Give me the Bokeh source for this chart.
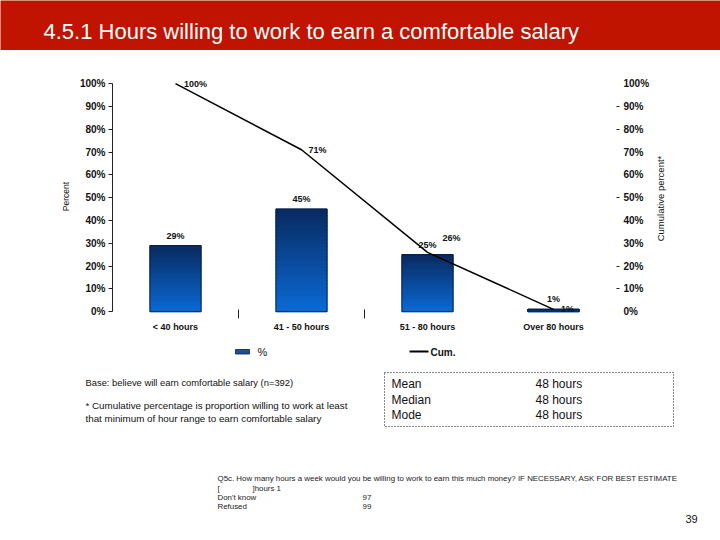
import math
import numpy as np
from bokeh.plotting import figure
from bokeh.models import (Range1d, LinearAxis, FixedTicker, PrintfTickFormatter,
                          ColumnDataSource, LabelSet)
from bokeh.layouts import row
from bokeh.core.properties import value
from bokeh.embed import file_html
from bokeh.resources import INLINE

# ---------------- data ----------------
title = "4.5.1 Hours willing to work to earn a comfortable salary"
categories = ["< 40 hours", "41 - 50 hours", "51 - 80 hours", "Over 80 hours"]
pct = [29, 45, 25, 1]
cum = [100, 71, 26, 1]
y_ticks = [0, 10, 20, 30, 40, 50, 60, 70, 80, 90, 100]
right_tick_marks = [10, 20, 50, 80, 90]
right_title = "Cumulative percent*"
legend_labels = ["%", "Cum."]
summary_labels = ["Mean", "Median", "Mode"]
summary_values = ["48 hours", "48 hours", "48 hours"]
base_note = "Base: believe will earn comfortable salary (n=392)"
cum_note = ["* Cumulative percentage is proportion willing to work at least",
            "that minimum of hour range to earn comfortable salary"]
question = "Q5c. How many hours a week would you be willing to work to earn this much money?  IF NECESSARY, ASK FOR BEST ESTIMATE"
answer_rows = ["Don't know", "Refused"]
answer_codes = ["97", "99"]
page_number = "39"

FONT = value("Liberation Sans")
RED = "#C01400"
W = 720

# ---------------- banner ----------------
banner = figure(width=W, height=50, x_range=Range1d(0, W), y_range=Range1d(50, 0),
                output_backend="svg", toolbar_location=None, x_axis_type=None, y_axis_type=None,
                min_border=0)
banner.background_fill_color = RED
banner.border_fill_color = RED
banner.outline_line_color = None
banner.text(x=[43], y=[31], text=[title], text_font=FONT, text_font_size="22px",
            text_color="white", text_baseline="middle", text_align="left")

# ---------------- chart ----------------
n = len(categories)
xc = np.arange(n) + 0.5
pct_a = np.array(pct, dtype=float)
CW = 652

chart = figure(width=CW, height=290, x_range=Range1d(0, n), y_range=Range1d(-3, 104),
               output_backend="svg", toolbar_location=None, x_axis_type=None, y_axis_type=None,
               min_border_left=112, min_border_right=CW - 617, min_border_top=24,
               min_border_bottom=22)
chart.outline_line_color = None

# gradient bars built from slices of each bar's own height
N = 30
top_c = np.array([9, 42, 96])
bot_c = np.array([10, 106, 214])
xs, bots, tops, cols = [], [], [], []
for k in range(N):
    f = (k + 0.5) / N
    c = bot_c + (top_c - bot_c) * f
    col = "#%02x%02x%02x" % tuple(int(round(v)) for v in c)
    for i in range(n):
        xs.append(xc[i])
        bots.append(pct_a[i] * k / N)
        tops.append(pct_a[i] * (k + 1) / N)
        cols.append(col)
slices = ColumnDataSource(dict(x=xs, bottom=bots, top=tops, color=cols))
BW = 0.405
chart.vbar(x="x", bottom="bottom", top="top", width=BW, fill_color="color",
           line_color="color", line_width=1.2, source=slices)
chart.vbar(x=xc, top=pct_a, width=BW, fill_color=None, line_color="#0b1d3f", line_width=0.8)

chart.line(x=xc, y=cum, line_color="black", line_width=1.5)

bar_src = ColumnDataSource(dict(x=xc, y=pct, t=["%d%%" % v for v in pct]))
chart.add_layout(LabelSet(x="x", y="y", text="t", source=bar_src, y_offset=5,
                          text_align="center", text_baseline="bottom",
                          text_font=FONT, text_font_size="9px", text_font_style="bold",
                          text_color="#111111"))
cum_src = ColumnDataSource(dict(x=xc, y=cum, t=["%d%%" % v for v in cum],
                                xo=[20, 16, 24, 14], yo=[0, 0, 14, 0]))
chart.add_layout(LabelSet(x="x", y="y", text="t", source=cum_src, x_offset="xo", y_offset="yo",
                          text_align="center", text_baseline="middle",
                          text_font=FONT, text_font_size="9px", text_font_style="bold",
                          text_color="#111111"))

def style_y(ax, size):
    ax.bounds = (0, 100)
    ax.major_label_text_font = "Liberation Sans"
    ax.major_label_text_font_size = "10px"
    ax.major_label_text_font_style = "bold"
    ax.major_label_text_color = "#111111"
    ax.axis_label_text_font = "Liberation Sans"
    ax.axis_label_text_font_size = size
    ax.axis_label_text_font_style = "normal"
    ax.axis_label_text_color = "#111111"

yl = LinearAxis(ticker=FixedTicker(ticks=y_ticks), formatter=PrintfTickFormatter(format="%d%%"),
                axis_label="Percent")
style_y(yl, "8.5px")
yl.major_tick_out = 4
yl.major_tick_in = 0
yl.major_label_standoff = 3
yl.axis_label_standoff = 6
yl.axis_line_color = "#222222"
yl.major_tick_line_color = "#222222"
chart.add_layout(yl, "left")

yr = LinearAxis(ticker=FixedTicker(ticks=y_ticks, minor_ticks=right_tick_marks),
                formatter=PrintfTickFormatter(format="%d%%"))
style_y(yr, "9.5px")
yr.axis_line_color = None
yr.major_tick_line_color = None
yr.major_tick_out = 3
yr.major_tick_in = 0
yr.minor_tick_out = 3
yr.minor_tick_in = 0
yr.minor_tick_line_color = "#222222"
yr.major_label_standoff = 4
chart.add_layout(yr, "right")

xb = LinearAxis(ticker=FixedTicker(ticks=list(xc), minor_ticks=[1, 2]),
                major_label_overrides={float(xv): c for xv, c in zip(xc, categories)})
xb.axis_line_color = None
xb.major_tick_line_color = None
xb.major_tick_out = 0
xb.major_tick_in = 0
xb.minor_tick_in = 9
xb.minor_tick_out = 0
xb.minor_tick_line_color = "#222222"
xb.major_label_standoff = 3
xb.major_label_text_font = "Liberation Sans"
xb.major_label_text_font_size = "9px"
xb.major_label_text_font_style = "bold"
xb.major_label_text_color = "#111111"
chart.add_layout(xb, "below")

# side strip holding the right-hand axis title (reads bottom-to-top)
side = figure(width=W - CW, height=290, x_range=Range1d(CW, W), y_range=Range1d(318, 74),
              output_backend="svg", toolbar_location=None, x_axis_type=None, y_axis_type=None,
              min_border_left=0, min_border_right=0, min_border_top=24, min_border_bottom=22)
side.outline_line_color = None
side.text(x=[660], y=[198], text=[right_title], angle=math.pi / 2, text_font=FONT,
          text_font_size="9.5px", text_align="center", text_baseline="middle",
          text_color="#111111")

# ---------------- bottom area (page pixel coordinates) ----------------
bottom = figure(width=W, height=200, x_range=Range1d(0, W), y_range=Range1d(540, 340),
                output_backend="svg", toolbar_location=None, x_axis_type=None, y_axis_type=None,
                min_border=0)
bottom.outline_line_color = None

# legend
bottom.quad(left=[235], right=[249], top=[349], bottom=[353.5], fill_color="#1d4f9a",
            line_color="#0b1d3f", line_width=0.8)
bottom.text(x=[257], y=[351.5], text=[legend_labels[0]], text_font=FONT, text_font_size="11px",
            text_baseline="middle", text_color="#111111")
bottom.line(x=[409, 428], y=[351, 351], line_color="black", line_width=2)
bottom.text(x=[430], y=[351.5], text=[legend_labels[1]], text_font=FONT, text_font_size="10px",
            text_font_style="bold", text_baseline="middle", text_color="#111111")

# notes
bottom.text(x=[85], y=[382], text=[base_note], text_font=FONT, text_font_size="9.4px",
            text_baseline="middle", text_color="#111111")
bottom.text(x=[85, 85], y=[405, 418], text=cum_note, text_font=FONT, text_font_size="9.8px",
            text_baseline="middle", text_color="#111111")

# summary box
bottom.quad(left=[384], right=[673], top=[372], bottom=[426], fill_color=None,
            line_color="#111111", line_width=1, line_dash="1 2")
bottom.text(x=[391] * 3, y=[383, 399, 414], text=summary_labels, text_font=FONT,
            text_font_size="12px", text_baseline="middle", text_color="#111111")
bottom.text(x=[535] * 3, y=[383, 399, 414], text=summary_values, text_font=FONT,
            text_font_size="12px", text_baseline="middle", text_color="#111111")

# question
QS = "7.9px"
bottom.text(x=[217], y=[478], text=[question], text_font=FONT, text_font_size=QS,
            text_baseline="middle", text_color="#222222")
bottom.text(x=[217, 252], y=[488, 488], text=["[", "]hours  1"], text_font=FONT,
            text_font_size=QS, text_baseline="middle", text_color="#222222")
bottom.text(x=[217, 217], y=[497, 506], text=answer_rows, text_font=FONT,
            text_font_size=QS, text_baseline="middle", text_color="#222222")
bottom.text(x=[362, 362], y=[497, 506], text=answer_codes, text_font=FONT,
            text_font_size=QS, text_baseline="middle", text_color="#222222")

bottom.text(x=[685], y=[518], text=[page_number], text_font=FONT, text_font_size="11px",
            text_baseline="middle", text_color="#111111")

open("out.html", "w").write(file_html([banner, row(chart, side), bottom], INLINE))
